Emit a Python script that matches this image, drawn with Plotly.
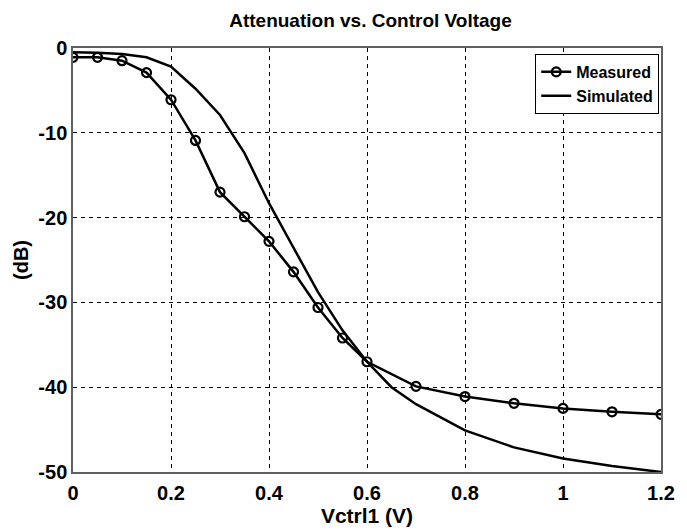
import plotly.graph_objects as go

meas_x = [0, 0.05, 0.1, 0.15, 0.2, 0.25, 0.3, 0.35, 0.4, 0.45, 0.5, 0.55, 0.6, 0.7, 0.8, 0.9, 1.0, 1.1, 1.2]
meas_y = [-1.1, -1.1, -1.5, -2.9, -6.1, -10.9, -17.0, -19.9, -22.8, -26.4, -30.6, -34.2, -37.0, -39.9, -41.1, -41.9, -42.5, -42.9, -43.2]

sim_x = [0, 0.05, 0.1, 0.15, 0.2, 0.25, 0.3, 0.35, 0.4, 0.45, 0.5, 0.55, 0.6, 0.65, 0.7, 0.8, 0.9, 1.0, 1.1, 1.2]
sim_y = [-0.5, -0.55, -0.7, -1.1, -2.2, -4.8, -7.9, -12.4, -18.3, -23.6, -28.8, -33.3, -37.0, -40.0, -42.0, -45.1, -47.1, -48.4, -49.3, -50.0]

x_ticks = [0, 0.2, 0.4, 0.6, 0.8, 1, 1.2]
x_tick_labels = ["0", "0.2", "0.4", "0.6", "0.8", "1", "1.2"]
y_ticks = [0, -10, -20, -30, -40, -50]
y_tick_labels = ["0", "-10", "-20", "-30", "-40", "-50"]

FONT = "Liberation Sans, Arial, sans-serif"

fig = go.Figure()
fig.add_trace(go.Scatter(
    x=meas_x, y=meas_y, mode="lines+markers", name="<b>Measured</b>",
    line=dict(color="black", width=2.5),
    marker=dict(symbol="circle-open", size=9, color="black", line=dict(width=2.2, color="black")),
))
fig.add_trace(go.Scatter(
    x=sim_x, y=sim_y, mode="lines", name="<b>Simulated</b>",
    line=dict(color="black", width=2.5),
))

axis_common = dict(
    showgrid=True, gridcolor="black", gridwidth=1, griddash="4px,4px",
    showline=True, linecolor="#606060", linewidth=1.5, mirror=True,
    zeroline=False, ticks="", color="black",
    tickfont=dict(family=FONT, size=20, color="black", weight="bold"),
)

fig.update_layout(
    width=687, height=532,
    margin=dict(l=73, r=19, t=48, b=59),
    paper_bgcolor="white", plot_bgcolor="white",
    title=dict(text="<b>Attenuation vs. Control Voltage</b>", x=0.5393, xanchor="center", y=0.962, yanchor="middle",
               font=dict(family=FONT, size=19, color="black", weight="bold")),
    xaxis=dict(range=[0, 1.2], tickvals=x_ticks, ticktext=["<b>%s</b>" % t for t in x_tick_labels],
               ticklabelstandoff=2,
               title=dict(text="<b>Vctrl1 (V)</b>", font=dict(family=FONT, size=21, color="black", weight="bold"), standoff=2),
               **axis_common),
    yaxis=dict(range=[-50, 0], tickvals=y_ticks, ticktext=["<b>%s</b>" % t for t in y_tick_labels],
               ticklabelstandoff=0,
               title=dict(text="<b>(dB)</b>", font=dict(family=FONT, size=20, color="black", weight="bold"), standoff=4),
               **axis_common),
    legend=dict(x=0.997, y=0.986, xanchor="right", yanchor="top",
                bgcolor="white", bordercolor="black", borderwidth=1,
                font=dict(family=FONT, size=16, color="black", weight="bold"),
                tracegroupgap=0, itemwidth=30),
    showlegend=True,
)

fig.write_html("out.html")
